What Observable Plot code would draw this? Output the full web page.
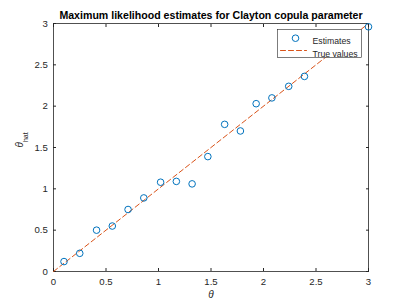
<!DOCTYPE html>
<html>
<head>
<meta charset="utf-8">
<script src="https://cdn.jsdelivr.net/npm/d3@7"></script>
<script src="https://cdn.jsdelivr.net/npm/@observablehq/plot@0.6"></script>
<style>
  html, body { margin: 0; padding: 0; background: #fff; }
  svg { font-family: "Liberation Sans", Arial, Helvetica, sans-serif; }
</style>
</head>
<body>
<div id="chart"></div>
<script>
const titleText = "Maximum likelihood estimates for Clayton copula parameter";
const xLabel = "θ";
const yLabelMain = "θ";
const yLabelSub = "hat";
const legendLabels = ["Estimates", "True values"];

const theta    = [0.10, 0.25, 0.41, 0.56, 0.71, 0.86, 1.02, 1.17, 1.32, 1.47, 1.63, 1.78, 1.93, 2.08, 2.24, 2.39, 3.00];
const thetaHat = [0.12, 0.22, 0.50, 0.55, 0.75, 0.89, 1.08, 1.09, 1.06, 1.39, 1.78, 1.70, 2.03, 2.10, 2.24, 2.36, 2.96];
const trueValues = [0, 3];
const xTicks = [0, 0.5, 1, 1.5, 2, 2.5, 3];
const yTicks = [0, 0.5, 1, 1.5, 2, 2.5, 3];

const blue = "#0072BD";
const orange = "#D95319";
const axisColor = "#262626";

const points = theta.map((t, i) => ({theta: t, hat: thetaHat[i]}));
const lineShape = {draw(context, l) { context.moveTo(0, 0); context.lineTo(0, -l); }};

const plot = Plot.plot({
  width: 407,
  height: 305,
  marginLeft: 53,
  marginRight: 39,
  marginTop: 23,
  marginBottom: 34,
  style: {background: "#fff", fontFamily: "Liberation Sans, Arial, sans-serif"},
  x: {domain: [0, 3]},
  y: {domain: [0, 3]},
  marks: [
    Plot.axisX({ticks: xTicks, tickSize: -3, tickPadding: 10, tickFormat: d => String(d), fontSize: 9.6, color: axisColor, label: null}),
    Plot.axisX({anchor: "top", ticks: xTicks, tickSize: -3, tickFormat: () => "", label: null, color: axisColor}),
    Plot.axisY({ticks: yTicks, tickSize: -3, tickPadding: 8.7, tickFormat: d => String(d), fontSize: 9.6, color: axisColor, label: null}),
    Plot.axisY({anchor: "right", ticks: yTicks, tickSize: -3, tickFormat: () => "", label: null, color: axisColor}),
    Plot.frame({stroke: axisColor, strokeWidth: 0.8}),
    Plot.line(trueValues, {x: d => d, y: d => d, stroke: orange, strokeWidth: 1, strokeDasharray: "5,3"}),
    Plot.dot(points, {x: "theta", y: "hat", r: 3.3, stroke: blue, strokeWidth: 1, fill: "none"}),
    // legend
    Plot.frame({insetLeft: 224, insetRight: 7, insetTop: 6, insetBottom: 214, fill: "white", stroke: axisColor, strokeWidth: 0.6}),
    Plot.dot([legendLabels[0]], {frameAnchor: "top-right", dx: -73, dy: 14.7, r: 3.3, stroke: blue, strokeWidth: 1, fill: "none"}),
    Plot.vector([legendLabels[1]], {frameAnchor: "top-right", dx: -88, dy: 27, length: 26, rotate: 90, anchor: "start", shape: lineShape, stroke: orange, strokeWidth: 1, strokeDasharray: "5,3"}),
    Plot.text([legendLabels[0]], {frameAnchor: "top-right", text: d => d, dx: -56, dy: 14.7, textAnchor: "start", fontSize: 8.7, fill: axisColor}),
    Plot.text([legendLabels[1]], {frameAnchor: "top-right", text: d => d, dx: -56, dy: 27, textAnchor: "start", fontSize: 8.7, fill: axisColor}),
    // title & labels
    Plot.text([titleText], {frameAnchor: "top", text: d => d, dy: -5, lineAnchor: "bottom", fontSize: 10.6, fontWeight: "bold", fill: "#000"}),
    Plot.text([xLabel], {frameAnchor: "bottom", text: d => d, dy: 26.5, lineAnchor: "bottom", fontSize: 10, fontStyle: "italic", fill: axisColor}),
    Plot.text([yLabelMain], {frameAnchor: "left", text: d => d, dx: -34, rotate: -90, fontSize: 10, fill: axisColor, ariaLabel: "ylabel"})
  ]
});

// add subscript to the y label
let ylab = d3.select(plot).selectAll('text[aria-label="ylabel"], g[aria-label="ylabel"] text');
if (ylab.empty()) {
  ylab = d3.select(plot).selectAll("text").filter(function() {
    return this.textContent === yLabelMain && (this.getAttribute("transform") || "").includes("rotate");
  });
}
ylab.each(function() {
  const t = d3.select(this);
  t.text(null);
  t.append("tspan").attr("font-style", "italic").text(yLabelMain);
  t.append("tspan").attr("font-size", 7).attr("dy", "0.75em").text(yLabelSub);
});

document.getElementById("chart").appendChild(plot);
</script>
</body>
</html>
